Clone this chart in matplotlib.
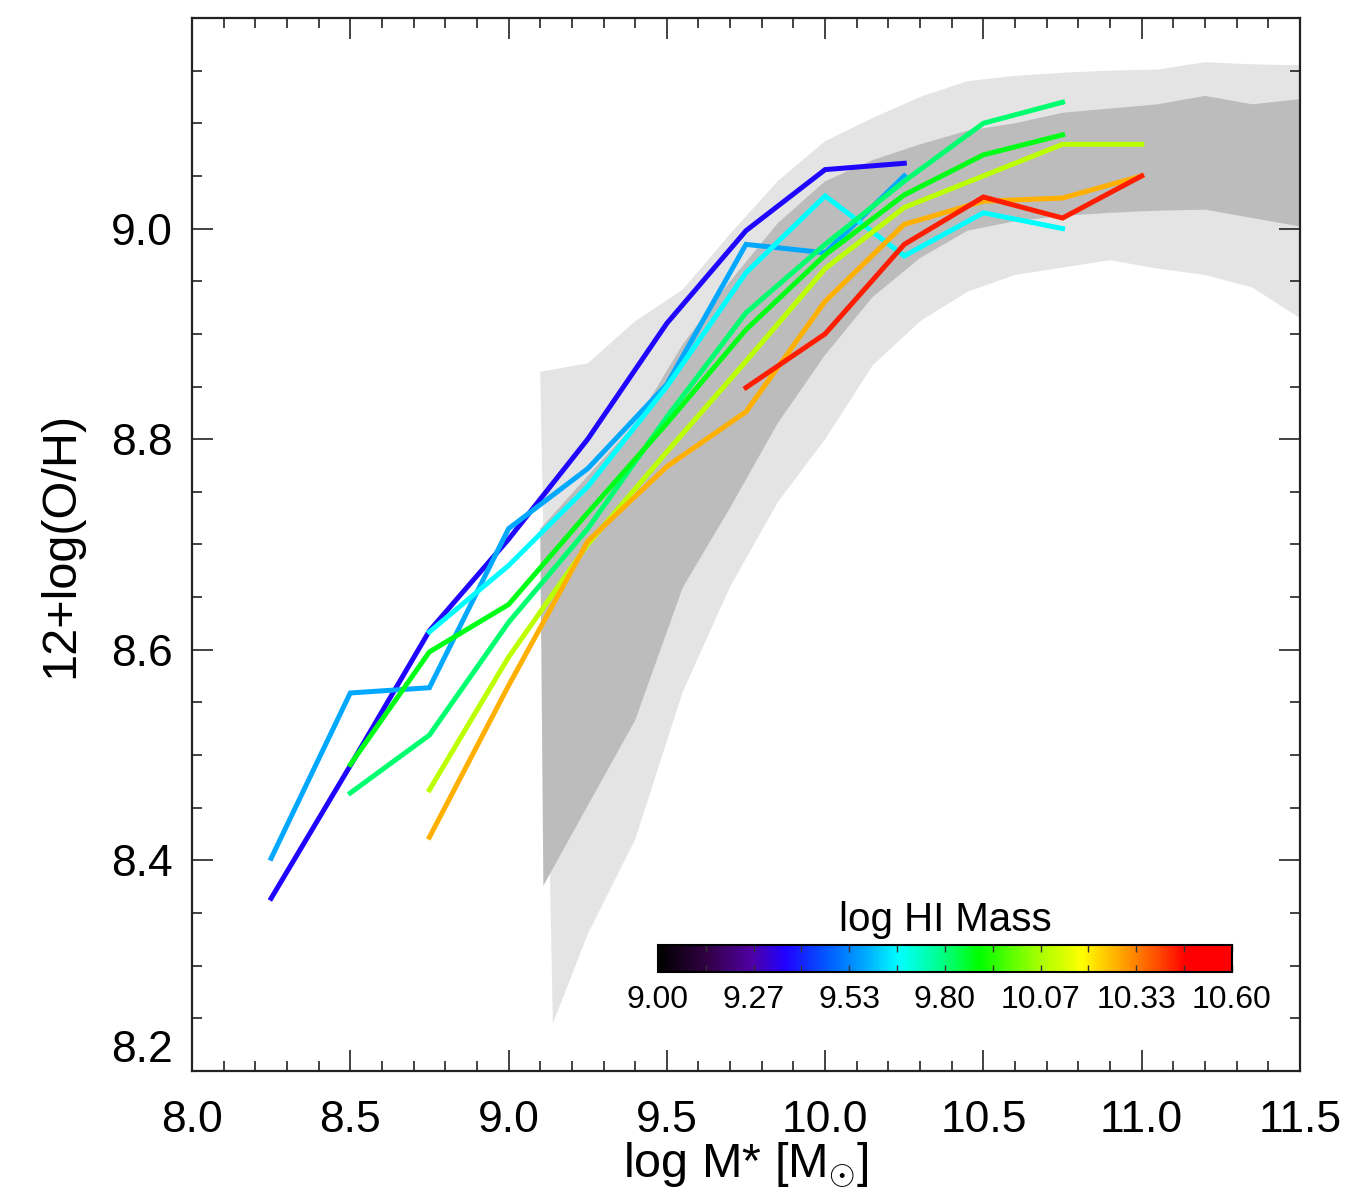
import numpy as np
import matplotlib
matplotlib.use("Agg")
import matplotlib.pyplot as plt
from matplotlib.colors import LinearSegmentedColormap, Normalize
from matplotlib.cm import ScalarMappable
from matplotlib.ticker import MultipleLocator, FixedLocator

plt.rcParams['font.family'] = ['Liberation Sans', 'DejaVu Sans']
plt.rcParams['mathtext.fontset'] = 'custom'
plt.rcParams['mathtext.rm'] = 'Liberation Sans'
plt.rcParams['mathtext.it'] = 'Liberation Sans'

# ---------------- data ----------------
# shaded bands (stellar-mass grid)
band_x = [9.10, 9.25, 9.40, 9.55, 9.70, 9.85, 10.00, 10.15, 10.30, 10.45,
          10.60, 10.75, 10.90, 11.05, 11.20, 11.35, 11.50]
outer_x_low = [9.14, 9.25, 9.40, 9.55, 9.70, 9.85, 10.00, 10.15, 10.30, 10.45,
               10.60, 10.75, 10.90, 11.05, 11.20, 11.35, 11.50]
inner_x_low = [9.11, 9.25, 9.40, 9.55, 9.70, 9.85, 10.00, 10.15, 10.30, 10.45,
               10.60, 10.75, 10.90, 11.05, 11.20, 11.35, 11.50]
outer_hi = [8.864, 8.872, 8.912, 8.942, 8.995, 9.045, 9.083, 9.105, 9.125, 9.140,
            9.145, 9.148, 9.150, 9.151, 9.158, 9.156, 9.155]
outer_lo = [8.245, 8.330, 8.420, 8.560, 8.660, 8.740, 8.800, 8.870, 8.912, 8.940,
            8.956, 8.963, 8.970, 8.962, 8.956, 8.944, 8.915]
inner_hi = [8.715, 8.765, 8.815, 8.890, 8.950, 9.005, 9.045, 9.065, 9.080, 9.093,
            9.100, 9.110, 9.114, 9.118, 9.126, 9.118, 9.123]
inner_lo = [8.376, 8.452, 8.533, 8.659, 8.735, 8.815, 8.880, 8.935, 8.972, 8.998,
            9.007, 9.012, 9.015, 9.017, 9.018, 9.010, 9.002]

# HI-mass binned relations
hi_mass = [9.36, 9.58, 9.67, 9.81, 9.88, 10.09, 10.28, 10.44]
mstar = [
    [8.25, 8.50, 8.75, 9.00, 9.25, 9.50, 9.75, 10.00, 10.25],
    [8.25, 8.50, 8.75, 9.00, 9.25, 9.50, 9.75, 10.00, 10.25],
    [8.75, 9.00, 9.25, 9.50, 9.75, 10.00, 10.25, 10.50, 10.75],
    [8.50, 8.75, 9.00, 9.25, 9.50, 9.75, 10.00, 10.25, 10.50, 10.75],
    [8.50, 8.75, 9.00, 9.25, 9.50, 9.75, 10.00, 10.25, 10.50, 10.75],
    [8.75, 9.00, 9.25, 9.50, 9.75, 10.00, 10.25, 10.50, 10.75, 11.00],
    [8.75, 9.00, 9.25, 9.50, 9.75, 10.00, 10.25, 10.50, 10.75, 11.00],
    [9.75, 10.00, 10.25, 10.50, 10.75, 11.00],
]
oh = [
    [8.364, 8.490, 8.618, 8.705, 8.800, 8.910, 8.998, 9.056, 9.062],
    [8.402, 8.559, 8.564, 8.715, 8.772, 8.852, 8.985, 8.977, 9.050],
    [8.617, 8.680, 8.755, 8.850, 8.958, 9.031, 8.974, 9.015, 9.000],
    [8.464, 8.519, 8.626, 8.715, 8.821, 8.920, 8.985, 9.045, 9.100, 9.120],
    [8.491, 8.598, 8.643, 8.730, 8.815, 8.904, 8.975, 9.032, 9.070, 9.089],
    [8.467, 8.593, 8.700, 8.788, 8.874, 8.962, 9.020, 9.050, 9.080, 9.080],
    [8.422, 8.566, 8.703, 8.774, 8.826, 8.931, 9.004, 9.026, 9.029, 9.050],
    [8.849, 8.900, 8.985, 9.030, 9.010, 9.050],
]

x_ticks = [8.0, 8.5, 9.0, 9.5, 10.0, 10.5, 11.0, 11.5]
y_ticks = [8.2, 8.4, 8.6, 8.8, 9.0]
cbar_ticklabels = ['9.00', '9.27', '9.53', '9.80', '10.07', '10.33', '10.60']
hi_min, hi_max = 9.0, 10.6

# IDL-like rainbow colormap
cmap = LinearSegmentedColormap.from_list('idl_rainbow', [
    (0.00, '#000000'), (0.08, '#300040'), (0.16, '#5000a0'), (0.22, '#2000ff'),
    (0.30, '#0060ff'), (0.36, '#00a8ff'), (0.42, '#00ffff'), (0.49, '#00ff90'),
    (0.56, '#00ff00'), (0.66, '#a0ff00'), (0.74, '#ffff00'), (0.80, '#ffb000'),
    (0.88, '#ff4000'), (0.92, '#ff0000'), (1.00, '#ff0000')])
norm = Normalize(hi_min, hi_max)

# ---------------- figure ----------------
fig = plt.figure(figsize=(13.53, 11.98), dpi=100)
ax = fig.add_axes([0.1419, 0.106, 0.8189, 0.879])

ax.fill(np.concatenate([band_x, outer_x_low[::-1]]),
        np.concatenate([outer_hi, outer_lo[::-1]]),
        color='#e4e4e4', lw=0, zorder=1)
ax.fill(np.concatenate([band_x, inner_x_low[::-1]]),
        np.concatenate([inner_hi, inner_lo[::-1]]),
        color='#bcbcbc', lw=0, zorder=2)

for m, xs, ys in zip(hi_mass, mstar, oh):
    ax.plot(xs, ys, color=cmap(norm(m)), lw=3.6, solid_joinstyle='miter', zorder=3)

ax.set_xlim(8.0, 11.5)
ax.set_ylim(8.2, 9.2)
ax.xaxis.set_major_locator(FixedLocator(x_ticks))
ax.xaxis.set_minor_locator(MultipleLocator(0.1))
ax.yaxis.set_major_locator(FixedLocator(y_ticks + [9.2]))
ax.yaxis.set_minor_locator(MultipleLocator(0.05))
ax.xaxis.set_major_formatter(plt.FuncFormatter(lambda v, p: f'{v:.1f}'))
ax.yaxis.set_major_formatter(plt.FuncFormatter(
    lambda v, p: f'{v:.1f}' if v < 9.1 else ''))
ax.tick_params(which='both', direction='in', top=True, right=True, width=1.2,
               color='#222222')
ax.tick_params(which='major', length=15, labelsize=32)
ax.tick_params(axis='x', which='major', pad=21)
ax.tick_params(axis='y', which='major', pad=14)
ax.tick_params(which='minor', length=7.5)
for s in ax.spines.values():
    s.set_linewidth(1.6)
    s.set_color('#222222')

ax.set_xlabel(r'log M* [M$_{\odot}$]', fontsize=35, labelpad=0)
ax.set_ylabel('12+log(O/H)', fontsize=35, labelpad=20)

# lowest y label sits slightly above its tick, as in the original
ax.yaxis.get_major_ticks()[0].label1.set_verticalalignment('bottom')

# colorbar
cax = fig.add_axes([0.4863, 0.1886, 0.4242, 0.0225])
cb = fig.colorbar(ScalarMappable(norm=norm, cmap=cmap), cax=cax, orientation='horizontal')
cb.set_ticks(np.linspace(hi_min, hi_max, len(cbar_ticklabels)))
cb.set_ticklabels(cbar_ticklabels)
cb.ax.xaxis.set_minor_locator(FixedLocator(np.linspace(hi_min, hi_max, 2 * len(cbar_ticklabels) - 1)))
cax.tick_params(which='both', direction='in', top=True, bottom=True, length=5,
                width=1.0, color='#333333', labelsize=23, pad=9)
cb.outline.set_linewidth(1.5)
cax.set_title('log HI Mass', fontsize=29, pad=10)

fig.savefig('out.png', dpi=100)
